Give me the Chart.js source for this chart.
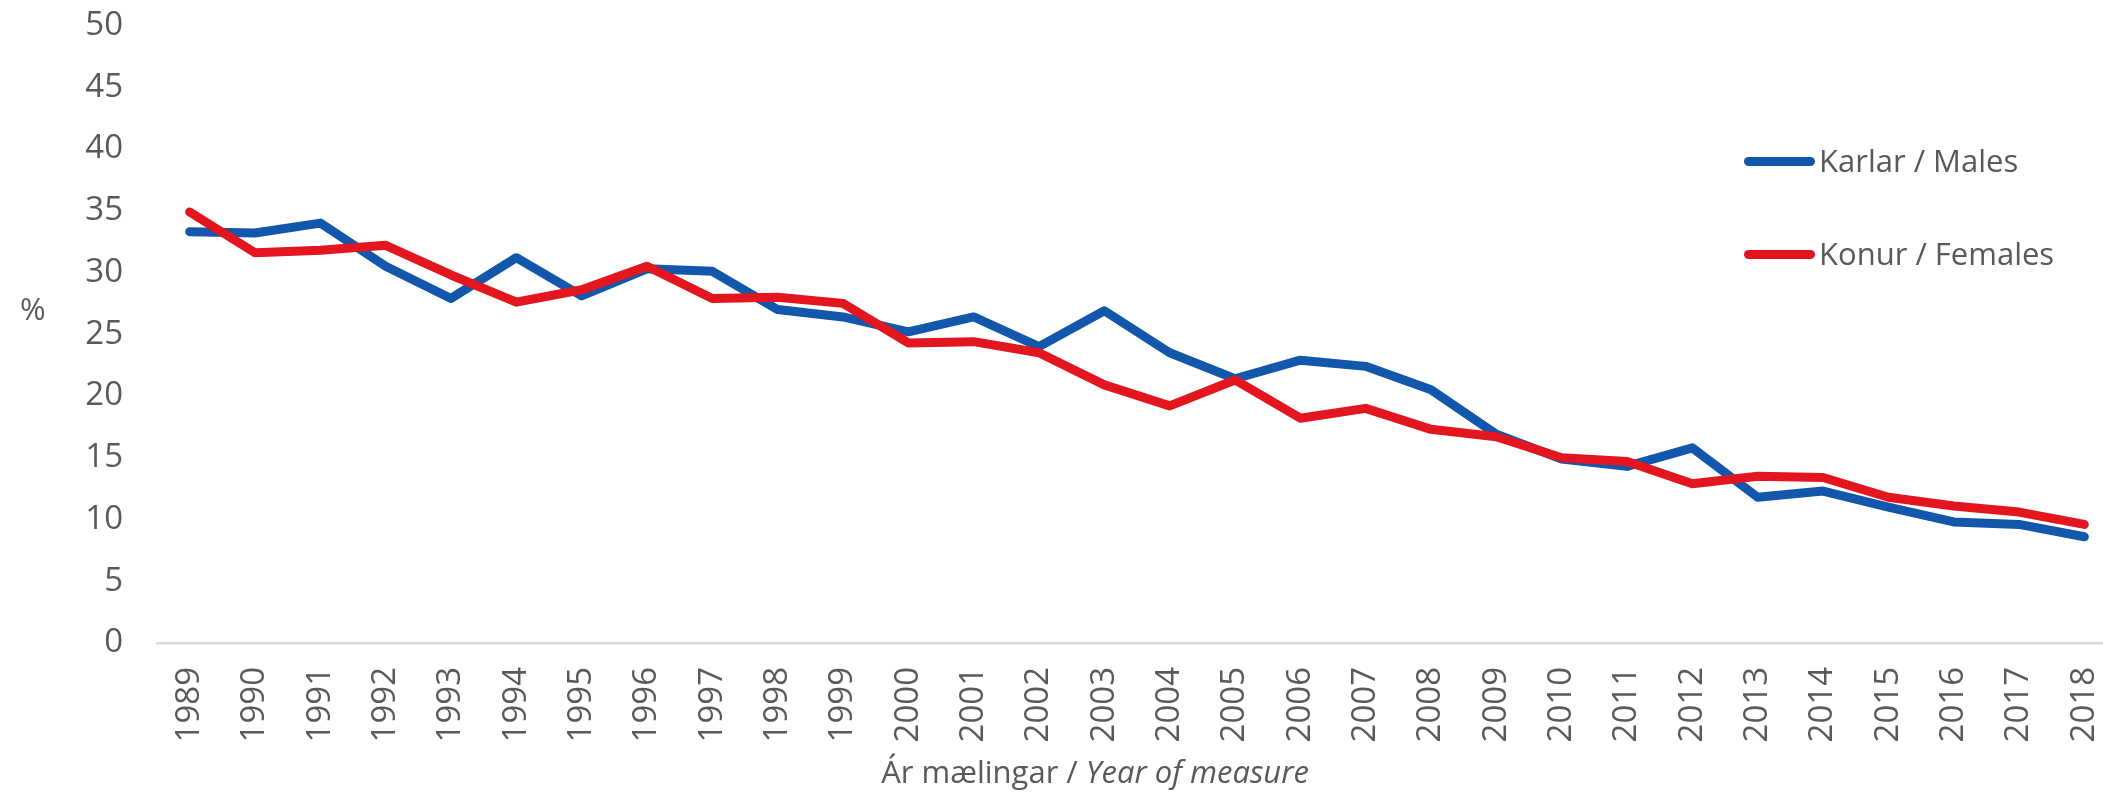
<!DOCTYPE html>
<html>
<head>
<meta charset="utf-8">
<script src="https://cdn.jsdelivr.net/npm/chart.js@4/dist/chart.umd.min.js"></script>
<style>
  html, body { margin: 0; padding: 0; background: #ffffff; overflow: hidden; width: 2103px; height: 805px; }
  #wrap { position: absolute; left: 0; top: 0; width: 2120px; height: 805px; }
  canvas { position: absolute; left: 0; top: 0; }
  .txt { position: absolute; font-family: "Open Sans", sans-serif; font-size: 31px; color: #595959; white-space: nowrap; line-height: 1; }
  .sw { position: absolute; height: 9px; border-radius: 5px; }
</style>
</head>
<body>
<div id="wrap">
  <canvas id="c" width="2120" height="805"></canvas>
  <div class="txt" id="pct" style="left:20px; top:293px;">%</div>
  <div class="txt" id="xt" style="left:1095px; top:756px; transform:translateX(-50%);">Ár mælingar / <i>Year of measure</i></div>
  <div class="sw" id="sw1" style="left:1744px; top:157px; width:71px;"></div>
  <div class="txt" id="lg1" style="left:1819px; top:145px;"></div>
  <div class="sw" id="sw2" style="left:1744px; top:250px; width:71px;"></div>
  <div class="txt" id="lg2" style="left:1819px; top:238px;"></div>
</div>
<script>
// ---- data ----
const years = ['1989','1990','1991','1992','1993','1994','1995','1996','1997','1998','1999','2000','2001','2002','2003','2004','2005','2006','2007','2008','2009','2010','2011','2012','2013','2014','2015','2016','2017','2018'];
const males = [33.3,33.2,34.0,30.5,27.9,31.2,28.1,30.3,30.1,27.0,26.4,25.2,26.4,24.0,26.9,23.5,21.4,22.9,22.4,20.5,16.9,14.9,14.3,15.8,11.8,12.3,11.0,9.8,9.6,8.6];
const females = [34.9,31.6,31.8,32.2,29.8,27.6,28.6,30.5,27.9,28.0,27.5,24.3,24.4,23.5,20.9,19.2,21.3,18.2,19.0,17.3,16.7,15.0,14.7,12.9,13.5,13.4,11.8,11.1,10.6,9.6];
const seriesNames = ['Karlar / Males', 'Konur / Females'];
const yTicks = [0,5,10,15,20,25,30,35,40,45,50];

const BLUE = '#1257AC';
const RED = '#E3151F';
const GREY = '#595959';

document.getElementById('sw1').style.background = BLUE;
document.getElementById('sw2').style.background = RED;
document.getElementById('lg1').textContent = seriesNames[0];
document.getElementById('lg2').textContent = seriesNames[1];

const FONT = { family: '"Open Sans", sans-serif', size: 33 };

new Chart(document.getElementById('c'), {
  type: 'line',
  data: {
    labels: years,
    datasets: [
      { label: seriesNames[0], data: males, borderColor: BLUE, backgroundColor: BLUE, borderWidth: 9,
        pointRadius: 0, tension: 0, borderCapStyle: 'round', borderJoinStyle: 'round', order: 2 },
      { label: seriesNames[1], data: females, borderColor: RED, backgroundColor: RED, borderWidth: 9,
        pointRadius: 0, tension: 0, borderCapStyle: 'round', borderJoinStyle: 'round', order: 1 }
    ]
  },
  options: {
    responsive: false,
    devicePixelRatio: 1,
    animation: false,
    layout: { padding: { left: 0, right: 3, top: 0, bottom: 0 } },
    plugins: { legend: { display: false }, tooltip: { enabled: false } },
    scales: {
      x: {
        offset: true,
        grid: { display: false, drawTicks: false },
        border: { display: true, color: '#D9D9D9', width: 2.5 },
        ticks: { color: GREY, font: FONT, minRotation: 90, maxRotation: 90, padding: 24, autoSkip: false },
        afterFit: (s) => { s.height = 162; s.paddingLeft = 0; s.paddingRight = 0; }
      },
      y: {
        min: 0, max: 50,
        afterBuildTicks: (s) => { s.ticks = yTicks.map(v => ({ value: v })); },
        grid: { display: false, drawTicks: false },
        border: { display: false },
        ticks: { color: GREY, font: FONT, padding: 34 },
        afterFit: (s) => { s.width = 157; s.paddingTop = 25.5; s.paddingBottom = 0; }
      }
    }
  }
});
</script>
</body>
</html>
